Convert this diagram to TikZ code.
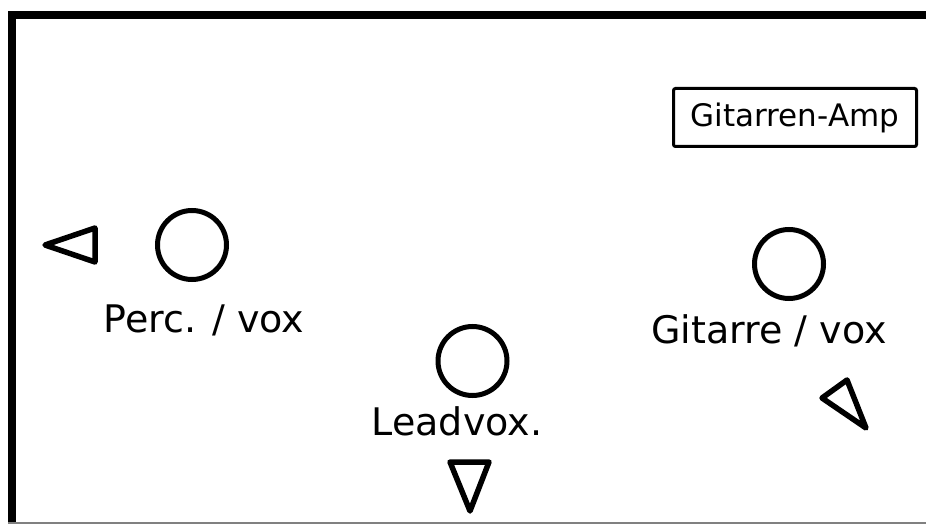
\documentclass[tikz,border=0pt]{standalone}
\usepackage{fontspec}
\setmainfont{DejaVu Sans}
\tikzset{
  mic/.style={draw, circle, line width=5pt, minimum size=69pt, inner sep=0pt},
  lbl/.style={anchor=base, inner sep=0pt, font=\fontsize{38}{40}\selectfont},
  wedge/.style={line width=5.5pt, line join=round},
  ampbox/.style={draw, line width=3pt, rounded corners=2pt, minimum width=243pt, minimum height=58pt, inner sep=0pt, font=\fontsize{31}{33}\selectfont}
}
\begin{document}
\begin{tikzpicture}[x=1pt, y=-1pt]
\useasboundingbox (0,0) rectangle (926,524);
% frame
\draw[line width=8pt, line join=miter] (930,15) -- (12,15) -- (12,530);
\draw[gray, line width=1.5pt] (8,523) -- (926,523);
% amp
\node[ampbox] (amp) at (795,117.5) {Gitarren-Amp};
% musicians
\node[mic] (perc) at (192,245) {};
\node[lbl] (perclbl) at (204,332) {Perc. / vox};
\node[mic] (lead) at (472.5,361) {};
\node[lbl] (leadlbl) at (457,435) {Leadvox.};
\node[mic] (git) at (789,264) {};
\node[lbl] (gitlbl) at (769,343) {Gitarre / vox};
% monitors
\draw[wedge] (45,245) -- (95,228) -- (95,262) -- cycle;
\draw[wedge] (450,462) -- (489,462) -- (470,511) -- cycle;
\draw[wedge] (822,398) -- (847,380) -- (866,428) -- cycle;
\end{tikzpicture}
\end{document}
